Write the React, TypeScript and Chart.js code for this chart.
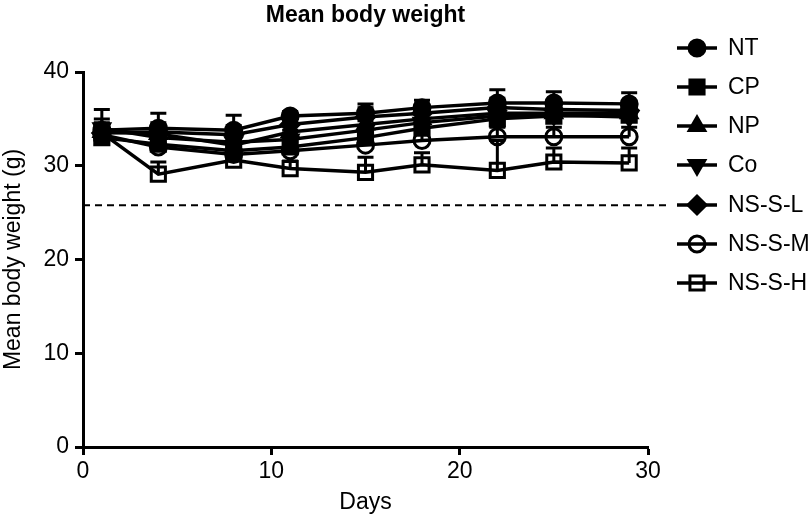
import React, { useEffect, useRef } from "react";
import { Chart, registerables } from "chart.js";
import { drawPoint } from "chart.js/helpers";

Chart.register(...registerables);

const days = [1, 4, 8, 11, 15, 18, 22, 25, 29];
const seriesNames = ["NT", "CP", "NP", "Co", "NS-S-L", "NS-S-M", "NS-S-H"];

const ntMean = [33.8, 34.0, 33.8, 35.3, 35.6, 36.2, 36.7, 36.7, 36.6];
const ntSd = [2.2, 1.6, 1.6, 0.5, 1.0, 0.8, 1.4, 1.2, 1.2];
const cpMean = [33.0, 32.3, 31.6, 32.0, 33.0, 34.0, 35.0, 35.3, 35.4];
const cpSd = [1.0, 1.0, 1.0, 1.0, 1.0, 1.0, 1.0, 1.0, 1.0];
const npMean = [33.6, 33.4, 32.2, 33.6, 34.4, 35.0, 35.6, 35.6, 35.6];
const npSd = [1.0, 1.0, 1.0, 1.0, 1.0, 1.0, 1.0, 1.0, 1.0];
const coMean = [34.0, 33.0, 32.5, 32.8, 33.8, 34.6, 35.3, 35.4, 35.2];
const coSd = [1.0, 1.0, 1.0, 1.0, 1.0, 1.0, 1.0, 1.0, 1.0];
const nslMean = [33.5, 33.6, 33.3, 34.4, 35.2, 35.6, 36.2, 36.0, 35.9];
const nslSd = [1.0, 1.0, 1.0, 1.0, 1.0, 1.0, 1.0, 1.0, 1.0];
const nsmMean = [33.3, 32.0, 31.2, 31.6, 32.2, 32.7, 33.1, 33.1, 33.1];
const nsmSd = [1.0, 1.0, 1.0, 1.0, 1.0, 1.0, 1.0, 1.0, 1.0];
const nshMean = [33.5, 29.1, 30.6, 29.7, 29.3, 30.1, 29.5, 30.4, 30.3];
const nshSd = [1.0, 1.3, 1.0, 0.8, 1.6, 1.3, 3.2, 1.5, 1.6];

const thresholdValue = 25.8;
const yTicks = [0, 10, 20, 30, 40];
const xTicks = [0, 10, 20, 30];

const FONT = "'Liberation Sans', Arial, Helvetica, sans-serif";

const styles = [
  { pointStyle: "circle", radius: 8, rotation: 0, fill: "#000" },
  { pointStyle: "rect", radius: 10, rotation: 0, fill: "#000" },
  { pointStyle: "triangle", radius: 9, rotation: 0, fill: "#000" },
  { pointStyle: "triangle", radius: 9, rotation: 180, fill: "#000" },
  { pointStyle: "rectRot", radius: 9, rotation: 0, fill: "#000" },
  { pointStyle: "circle", radius: 8, rotation: 0, fill: "rgba(0,0,0,0)" },
  { pointStyle: "rect", radius: 10, rotation: 0, fill: "rgba(0,0,0,0)" },
];

const means = [ntMean, cpMean, npMean, coMean, nslMean, nsmMean, nshMean];
const sds = [ntSd, cpSd, npSd, coSd, nslSd, nsmSd, nshSd];

const errorBarPlugin = {
  id: "errorBars",
  beforeDatasetsDraw(chart: any) {
    const ctx = chart.ctx;
    const y = chart.scales.y;
    const area = chart.chartArea;
    ctx.save();
    ctx.strokeStyle = "#000";
    ctx.lineWidth = 2;
    ctx.setLineDash([7, 5]);
    const ty = y.getPixelForValue(thresholdValue);
    ctx.beginPath();
    ctx.moveTo(area.left, ty);
    ctx.lineTo(area.right + 22, ty);
    ctx.stroke();
    ctx.restore();

    ctx.save();
    ctx.strokeStyle = "#000";
    ctx.lineWidth = 3;
    chart.data.datasets.forEach((ds: any, di: number) => {
      const meta = chart.getDatasetMeta(di);
      meta.data.forEach((pt: any, i: number) => {
        const m = means[di][i];
        const sd = sds[di][i];
        const top = y.getPixelForValue(m + sd);
        ctx.beginPath();
        ctx.moveTo(pt.x, pt.y);
        ctx.lineTo(pt.x, top);
        ctx.moveTo(pt.x - 8, top);
        ctx.lineTo(pt.x + 8, top);
        ctx.stroke();
      });
    });
    ctx.restore();
  },
  afterDraw(chart: any) {
    const ctx = chart.ctx;
    const area = chart.chartArea;
    ctx.save();
    ctx.fillStyle = "#000";
    ctx.font = `bold 23px ${FONT}`;
    ctx.textAlign = "center";
    ctx.textBaseline = "middle";
    ctx.fillText("Mean body weight", (area.left + area.right) / 2, 16);
    const lx = 677;
    const rowY = [48, 87, 126, 165, 205, 244, 283];
    seriesNames.forEach((name, i) => {
      const yy = rowY[i];
      ctx.strokeStyle = "#000";
      ctx.lineWidth = 3.5;
      ctx.beginPath();
      ctx.moveTo(lx, yy);
      ctx.lineTo(lx + 40, yy);
      ctx.stroke();
      const st = styles[i];
      ctx.fillStyle = st.fill;
      ctx.strokeStyle = "#000";
      ctx.lineWidth = 3;
      drawPoint(ctx, { pointStyle: st.pointStyle, radius: st.radius, rotation: st.rotation, borderWidth: 3 } as any, lx + 20, yy);
      ctx.fillStyle = "#000";
      ctx.font = `23px ${FONT}`;
      ctx.textAlign = "left";
      ctx.textBaseline = "middle";
      ctx.fillText(name, lx + 51, yy + 1);
    });
    ctx.restore();
  },
};

export default function App() {
  const ref = useRef<HTMLCanvasElement | null>(null);
  useEffect(() => {
    if (!ref.current) return;
    const datasets = seriesNames.map((name, i) => ({
      label: name,
      data: days.map((d, j) => ({ x: d, y: means[i][j] })),
      borderColor: "#000",
      borderWidth: 3.5,
      pointStyle: styles[i].pointStyle as any,
      pointRadius: styles[i].radius,
      pointRotation: styles[i].rotation,
      pointBackgroundColor: styles[i].fill,
      pointBorderColor: "#000",
      pointBorderWidth: 3,
      tension: 0,
      clip: false as any,
    }));
    const chart = new Chart(ref.current, {
      type: "line",
      data: { datasets },
      options: {
        animation: false,
        responsive: true,
        maintainAspectRatio: false,
        layout: { padding: { top: 72, right: 162, left: 0, bottom: 0 } },
        plugins: {
          legend: { display: false },
          title: { display: false },
          tooltip: { enabled: false },
        },
        scales: {
          x: {
            type: "linear",
            min: 0,
            max: 30,
            afterFit: (s: any) => {
              s.height = 74;
            },
            afterBuildTicks: (s: any) => {
              s.ticks = xTicks.map((v) => ({ value: v }));
            },
            border: { display: true, color: "#000", width: 3 },
            grid: { drawOnChartArea: false, drawTicks: true, tickLength: 8, tickWidth: 3, tickColor: "#000", color: "#000" },
            ticks: { color: "#000", font: { family: FONT, size: 23 }, padding: 3, maxRotation: 0 },
            title: { display: true, text: "Days", color: "#000", font: { family: FONT, size: 23 }, padding: { top: 0, bottom: 5 } },
          },
          y: {
            type: "linear",
            min: 0,
            max: 40,
            afterFit: (s: any) => {
              s.width = 83;
            },
            afterBuildTicks: (s: any) => {
              s.ticks = yTicks.map((v) => ({ value: v }));
            },
            border: { display: true, color: "#000", width: 3 },
            grid: { drawOnChartArea: false, drawTicks: true, tickLength: 8, tickWidth: 3, tickColor: "#000", color: "#000" },
            ticks: { color: "#000", font: { family: FONT, size: 23 }, padding: 6 },
            title: { display: true, text: "Mean body weight (g)", color: "#000", font: { family: FONT, size: 23 }, padding: { top: 0, bottom: 0 } },
          },
        },
      },
      plugins: [errorBarPlugin],
    });
    return () => chart.destroy();
  }, []);
  return (
    <div style={{ position: "absolute", left: 0, top: 0, width: 810, height: 521, background: "#fff" }}>
      <canvas ref={ref} />
    </div>
  );
}
